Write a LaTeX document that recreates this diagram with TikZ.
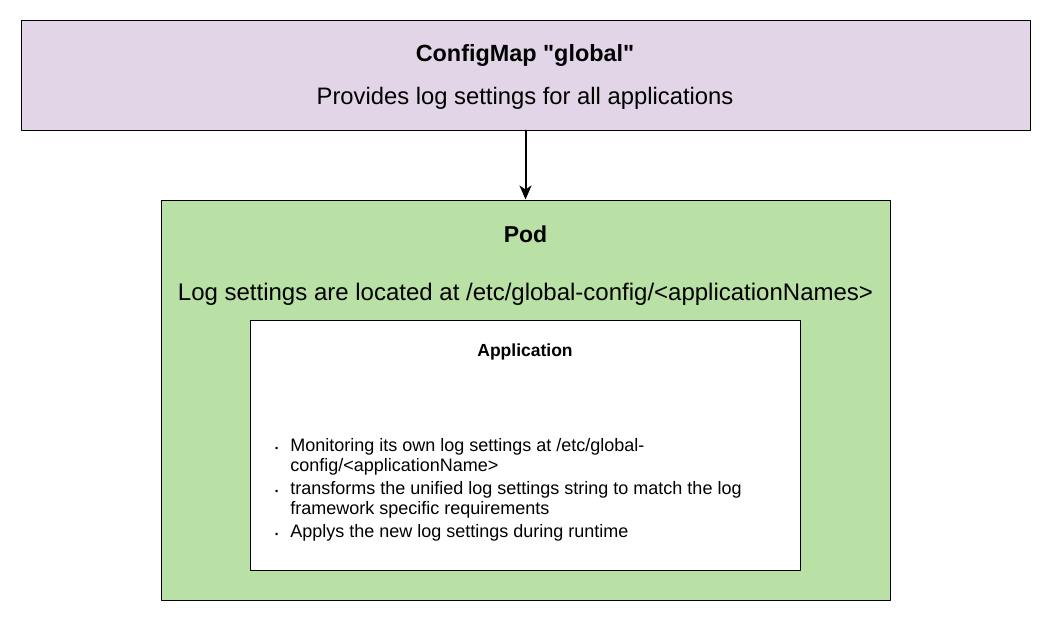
\documentclass[tikz,border=0pt]{standalone}
\usepackage{fontspec}
\setmainfont{Liberation Sans}
\usetikzlibrary{arrows.meta}
\definecolor{cfgpurple}{HTML}{E1D5E7}
\definecolor{podgreen}{HTML}{B9E0A5}

\begin{document}
\begin{tikzpicture}[x=1pt,y=-1pt,line cap=round,line join=round,
    box/.style={draw=black,line width=1pt,inner sep=0pt,rectangle},
    txt/.style={anchor=base,inner sep=0pt}]
	\useasboundingbox (0,0) rectangle (1051,621);
	% boxes
	\node[box,fill=cfgpurple,minimum width=1009pt,minimum height=110pt] (config) at (525.5,75) {};
	\node[box,fill=podgreen,minimum width=729pt,minimum height=400pt] (pod) at (525.5,400) {};
	\node[box,fill=white,minimum width=550pt,minimum height=250pt] (app) at (525,445) {};
	% texts
	\node[txt,font=\fontsize{23.4}{28}\selectfont\bfseries] (cfgtitle) at (525,61) {ConfigMap \textquotedbl global\textquotedbl};
	\node[txt,font=\fontsize{23.8}{28}\selectfont] (cfgdesc) at (525,104) {Provides log settings for all applications};
	\node[txt,font=\fontsize{23}{28}\selectfont\bfseries] (podtitle) at (525.5,242) {Pod};
	\node[txt,font=\fontsize{24}{28}\selectfont] (poddesc) at (525.5,300) {Log settings are located at /etc/global-config/<applicationNames>};
	\node[txt,font=\fontsize{17.5}{20}\selectfont\bfseries] (apptitle) at (525,356) {Application};
	\node[anchor=base west,inner sep=0pt,font=\fontsize{18}{20}\selectfont] (applist) at (275,451) {%
		\begin{tabular}[t]{@{}l@{\hspace{12pt}}l@{}}
			{\fontsize{9}{9}\selectfont\textbullet} & Monitoring its own log settings at /etc/global-\\
			& config/<applicationName>\\[3pt]
			{\fontsize{9}{9}\selectfont\textbullet} & transforms the unified log settings string to match the log\\
			& framework specific requirements\\[3pt]
			{\fontsize{9}{9}\selectfont\textbullet} & Applys the new log settings during runtime
		\end{tabular}};
	% connector
	\draw[line width=2pt,-{Stealth[length=14pt,width=12pt,inset=4pt]}] (config.south) -- (pod.north);
\end{tikzpicture}
\end{document}
